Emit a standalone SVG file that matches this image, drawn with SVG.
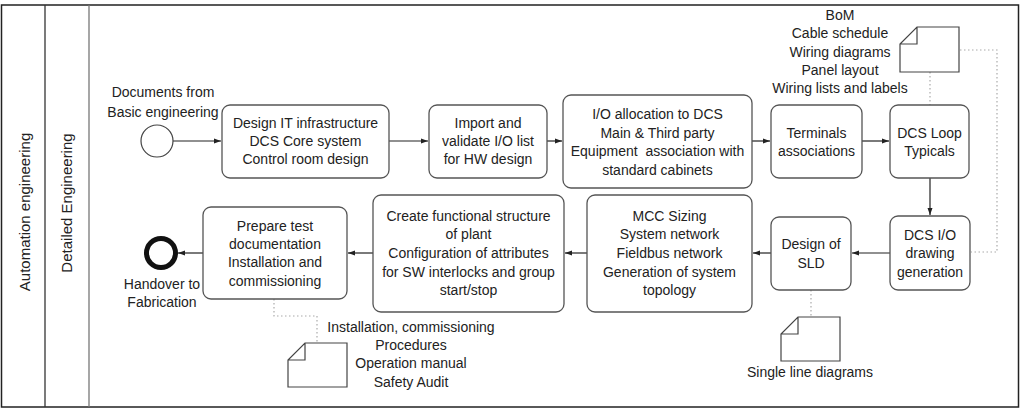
<svg xmlns="http://www.w3.org/2000/svg" width="1024" height="410" viewBox="0 0 1024 410">
<defs>
<style>
text{font-family:"Liberation Sans",Arial,sans-serif;font-size:14px;fill:#222;text-anchor:middle}
.lane{font-size:15px}
.box{fill:#fff;stroke:#555;stroke-width:1.3}
.arr{stroke:#222;stroke-width:1.2;fill:none;marker-end:url(#ah)}
.dot{stroke:#aaa;stroke-width:1.2;fill:none;stroke-dasharray:1.5 2.5}
.doc{fill:#fff;stroke:#444;stroke-width:1.2}
</style>
<marker id="ah" markerWidth="8" markerHeight="8" refX="7" refY="4" orient="auto" markerUnits="userSpaceOnUse">
<path d="M0,1.5 L7,4 L0,6.5 Z" fill="#222"/>
</marker>
</defs>
<rect width="1024" height="410" fill="#fff"/>
<g id="pool">
<rect x="1.5" y="5" width="1017" height="402" fill="none" stroke="#222" stroke-width="1.5"/>
<line x1="45" y1="5" x2="45" y2="407" stroke="#333" stroke-width="1.3"/>
<line x1="89" y1="5" x2="89" y2="407" stroke="#777" stroke-width="1.3"/>
<text class="lane" transform="translate(30,212) rotate(-90)">Automation engineering</text>
<text class="lane" transform="translate(72,203) rotate(-90)">Detailed Engineering</text>
</g>
<g id="connectors">
<line class="arr" x1="173" y1="141" x2="221" y2="141"/>
<line class="arr" x1="389" y1="141" x2="428" y2="141"/>
<line class="arr" x1="547" y1="141" x2="562" y2="141"/>
<line class="arr" x1="752" y1="141" x2="770" y2="141"/>
<line class="arr" x1="862" y1="141" x2="889" y2="141"/>
<line class="arr" x1="930" y1="178" x2="930" y2="215"/>
<line class="arr" x1="890" y1="253" x2="852" y2="253"/>
<line class="arr" x1="771" y1="253" x2="753" y2="253"/>
<line class="arr" x1="587" y1="253" x2="565" y2="253"/>
<line class="arr" x1="373" y1="253" x2="348" y2="253"/>
<line class="arr" x1="203" y1="253" x2="178" y2="253"/>
<polyline class="dot" points="960,50 997,50 997,252 971,252"/>
<line class="dot" x1="930" y1="72" x2="930" y2="105"/>
<line class="dot" x1="811" y1="290" x2="811" y2="317"/>
<polyline class="dot" points="274,299 274,316 317,316 317,343"/>
</g>
<g id="start">
<circle cx="157" cy="141" r="16" fill="#fff" stroke="#444" stroke-width="1.2"/>
<text x="163" y="97">Documents from</text>
<text x="163" y="117">Basic engineering</text>
</g>
<g id="end">
<circle cx="161" cy="253" r="14.5" fill="#fff" stroke="#111" stroke-width="5"/>
<text x="162" y="289">Handover to</text>
<text x="162" y="307">Fabrication</text>
</g>
<g id="n1">
<rect class="box" x="222" y="105" width="167" height="73" rx="8"/>
<text x="305.5" y="128">Design IT infrastructure</text>
<text x="305.5" y="146">DCS Core system</text>
<text x="305.5" y="164">Control room design</text>
</g>
<g id="n2">
<rect class="box" x="429" y="105" width="118" height="73" rx="8"/>
<text x="488" y="128">Import and</text>
<text x="488" y="146">validate I/O list</text>
<text x="488" y="164">for HW design</text>
</g>
<g id="n3">
<rect class="box" x="563" y="95" width="189" height="93" rx="8"/>
<text x="657.5" y="119">I/O allocation to DCS</text>
<text x="657.5" y="137.5">Main &amp; Third party</text>
<text x="657.5" y="156" xml:space="preserve">Equipment  association with</text>
<text x="657.5" y="174.5">standard cabinets</text>
</g>
<g id="n4">
<rect class="box" x="771" y="105" width="91" height="73" rx="8"/>
<text x="816.5" y="138">Terminals</text>
<text x="816.5" y="156">associations</text>
</g>
<g id="n5">
<rect class="box" x="890" y="105" width="79" height="73" rx="8"/>
<text x="929.5" y="138">DCS Loop</text>
<text x="929.5" y="156">Typicals</text>
</g>
<g id="doc1">
<path class="doc" d="M917,27 L959,27 L959,72 L900,72 L900,44 Z M900,44 L917,44 L917,27"/>
<text x="840" y="20">BoM</text>
<text x="840" y="38">Cable schedule</text>
<text x="840" y="56.5">Wiring diagrams</text>
<text x="840" y="74.5">Panel layout</text>
<text x="840" y="93">Wiring lists and labels</text>
</g>
<g id="n6">
<rect class="box" x="890" y="216" width="80" height="74" rx="8"/>
<text x="930" y="240">DCS I/O</text>
<text x="930" y="258">drawing</text>
<text x="930" y="277">generation</text>
</g>
<g id="n7">
<rect class="box" x="771" y="217" width="80" height="73" rx="8"/>
<text x="811" y="249">Design of</text>
<text x="811" y="268">SLD</text>
</g>
<g id="doc2">
<path class="doc" d="M798,317 L840,317 L840,361 L781,361 L781,334 Z M781,334 L798,334 L798,317"/>
<text x="810" y="377">Single line diagrams</text>
</g>
<g id="n8">
<rect class="box" x="587" y="195" width="165" height="117" rx="8"/>
<text x="669.5" y="221">MCC Sizing</text>
<text x="669.5" y="239">System network</text>
<text x="669.5" y="258">Fieldbus network</text>
<text x="669.5" y="277">Generation of system</text>
<text x="669.5" y="295">topology</text>
</g>
<g id="n9">
<rect class="box" x="373" y="195" width="191" height="117" rx="8"/>
<text x="468.5" y="221">Create functional structure</text>
<text x="468.5" y="239">of plant</text>
<text x="468.5" y="258">Configuration of attributes</text>
<text x="468.5" y="277">for SW interlocks and group</text>
<text x="468.5" y="295">start/stop</text>
</g>
<g id="n10">
<rect class="box" x="203" y="207" width="144" height="92" rx="8"/>
<text x="275" y="231">Prepare test</text>
<text x="275" y="249">documentation</text>
<text x="275" y="267">Installation and</text>
<text x="275" y="286">commissioning</text>
</g>
<g id="doc3">
<path class="doc" d="M305,343 L347,343 L347,387 L288,387 L288,360 Z M288,360 L305,360 L305,343"/>
<text x="411" y="332">Installation, commissioning</text>
<text x="411" y="350">Procedures</text>
<text x="411" y="368">Operation manual</text>
<text x="411" y="387">Safety Audit</text>
</g>
</svg>
